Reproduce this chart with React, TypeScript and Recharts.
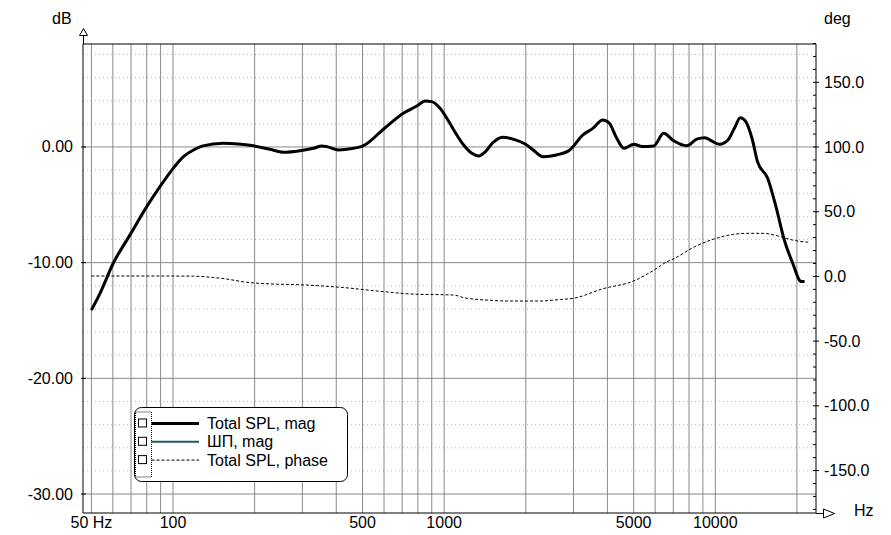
import React from "react";
import { LineChart, Line, XAxis, YAxis, ReferenceLine } from "recharts";

// Total SPL, magnitude (dB)
const splFreq = [
  50, 53.8, 60.2, 69.4, 80, 89.5, 99, 109, 119, 129, 153, 174, 198, 228, 255, 294, 330, 354, 369, 407, 438,
  502, 597, 707, 793, 851, 899, 966, 1023, 1085, 1180, 1265, 1341, 1420, 1505, 1643, 1807, 1990, 2130, 2315,
  2595, 2905, 3250, 3535, 3846, 4068, 4302, 4606, 5010, 5376, 5932, 6450, 7020, 7850, 8540, 9160, 9690,
  10380, 11130, 11760, 12370, 12960, 13710, 14310, 15600, 16740, 17970, 19300, 20740, 21340,
];
const splDb = [
  -14.1, -12.65, -10.05, -7.6, -5.16, -3.43, -2.0, -0.85, -0.26, 0.09, 0.32, 0.26, 0.1, -0.2, -0.46, -0.33,
  -0.11, 0.09, 0.03, -0.26, -0.2, 0.09, 1.53, 2.91, 3.54, 3.98, 3.92, 3.34, 2.48, 1.47, 0.17, -0.55, -0.78,
  -0.4, 0.32, 0.84, 0.66, 0.26, -0.26, -0.84, -0.69, -0.26, 1.04, 1.61, 2.33, 2.05, 0.89, -0.11, 0.23, 0.03,
  0.09, 1.18, 0.54, 0.11, 0.67, 0.8, 0.52, 0.23, 0.6, 1.61, 2.53, 2.19, 0.6, -1.27, -2.71, -5.16, -8.04,
  -10.05, -11.64, -11.64,
];

// Total SPL, phase (deg)
const phaseFreq = [
  50, 90, 119, 140, 155, 187, 230, 300, 430, 600, 760, 1090, 1180, 1500, 1700, 2250, 2680, 3000, 3850, 5000,
  5900, 6640, 7000, 8400, 9830, 11650, 13000, 15000, 17000, 19300, 21900, 22400,
];
const phaseDeg = [
  0.3, 0.3, 0.2, -0.8, -1.8, -4.5, -5.8, -6.5, -8.7, -11.8, -13.6, -14.4, -16.4, -18.5, -19, -19, -17.8, -16.9,
  -9.5, -3.5, 4.5, 11.4, 13.5, 23, 28.7, 32.5, 33.3, 33.3, 31.3, 28.1, 26.5, 26.4,
];

const freqTicks = [50, 100, 500, 1000, 5000, 10000];
const gridFreqs = [
  50, 60, 70, 80, 90, 100, 200, 300, 400, 500, 600, 700, 800, 900, 1000, 2000, 3000, 4000, 5000, 6000, 7000,
  8000, 9000, 10000, 20000,
];
const dbTicks = [-30, -20, -10, 0];
const dbMinor = [-28, -26, -24, -22, -18, -16, -14, -12, -8, -6, -4, -2, 2, 4, 6, 8];
const degTicks = [
  -180, -170, -160, -150, -140, -130, -120, -110, -100, -90, -80, -70, -60, -50, -40, -30, -20, -10, 0, 10, 20,
  30, 40, 50, 60, 70, 80, 90, 100, 110, 120, 130, 140, 150, 160, 170, 180,
];

const legendItems = ["Total SPL, mag", "ШП, mag", "Total SPL, phase"];

const FONT = "'Liberation Sans', Arial, sans-serif";

const splData = splFreq.map((f, i) => ({ f, db: splDb[i] }));
const phaseData = phaseFreq.map((f, i) => ({ f, deg: phaseDeg[i] }));

const DbTick = (props: any) => {
  const { x, y, payload } = props;
  return (
    <g>
      <line x1={x - 2} x2={x + 3} y1={y} y2={y} stroke="#000" />
      <text x={x - 10} y={y} dy={5.5} textAnchor="end" fontSize={16} fontFamily={FONT} fill="#000">
        {payload.value.toFixed(2)}
      </text>
    </g>
  );
};

const DegTick = (props: any) => {
  const { x, y, payload } = props;
  const v = payload.value;
  const major = v % 50 === 0;
  return (
    <g>
      <line x1={x - 3} x2={major ? x + 3 : x} y1={y} y2={y} stroke="#000" />
      {major && Math.abs(v) <= 150 && (
        <text x={x + 8} y={y} dy={5.5} textAnchor="start" fontSize={16} fontFamily={FONT} fill="#000">
          {v.toFixed(1)}
        </text>
      )}
    </g>
  );
};

const Legend = () => (
  <svg width={216} height={77} style={{ position: "absolute", left: 133, top: 406 }}>
    <rect x={1.5} y={1.5} width={213} height={74} rx={7} fill="#fff" stroke="#000" />
    <rect x={2.5} y={6} width={16} height={65} fill="none" stroke="#000" strokeDasharray="1 1" />
    {legendItems.map((name, i) => {
      const cy = 17.5 + i * 18.3;
      return (
        <g key={name}>
          <rect x={5.5} y={cy - 4.5} width={8} height={8} fill="#fff" stroke="#000" />
          <line
            x1={18.5}
            x2={66}
            y1={cy}
            y2={cy}
            stroke={i === 1 ? "#1f5c66" : "#000"}
            strokeWidth={i === 0 ? 3 : i === 1 ? 2 : 1}
            strokeDasharray={i === 2 ? "3 2" : undefined}
          />
          <text x={74} y={cy} dy={5.5} fontSize={16} fontFamily={FONT} fill="#000">
            {name}
          </text>
        </g>
      );
    })}
  </svg>
);

export default function App() {
  return (
    <div
      style={{
        position: "absolute",
        left: 0,
        top: 0,
        width: 891,
        height: 535,
        background: "#fff",
        fontFamily: FONT,
      }}
    >
      <LineChart width={891} height={535} margin={{ top: 44, right: 0, bottom: 0, left: 0 }}>
        <XAxis
          dataKey="f"
          type="number"
          scale="log"
          domain={[46.56, 23520]}
          allowDataOverflow
          ticks={freqTicks}
          interval={0}
          height={22}
          tickLine={false}
          tickSize={0}
          tickMargin={4}
          axisLine={{ stroke: "#000" }}
          tick={{ fontSize: 16, fill: "#000", fontFamily: FONT }}
          tickFormatter={(v: number) => (v === 50 ? "50 Hz" : String(v))}
        />
        <YAxis
          yAxisId="db"
          orientation="left"
          type="number"
          domain={[-31.64, 8.9]}
          allowDataOverflow
          ticks={dbTicks}
          interval={0}
          width={83}
          tickLine={false}
          tickSize={0}
          tickMargin={0}
          axisLine={{ stroke: "#000" }}
          tick={<DbTick />}
        />
        <YAxis
          yAxisId="deg"
          orientation="right"
          type="number"
          domain={[-182.8, 179.6]}
          allowDataOverflow
          ticks={degTicks}
          interval={0}
          width={75}
          tickLine={false}
          tickSize={0}
          tickMargin={0}
          axisLine={{ stroke: "#000" }}
          tick={<DegTick />}
        />
        {dbMinor.map((v) => (
          <ReferenceLine key={`m${v}`} yAxisId="db" y={v} stroke="#b8b8b8" strokeDasharray="1 3" />
        ))}
        {gridFreqs.map((f) => (
          <ReferenceLine key={`v${f}`} yAxisId="db" x={f} stroke="#8a8a8a" />
        ))}
        {dbTicks.map((v) => (
          <ReferenceLine key={`h${v}`} yAxisId="db" y={v} stroke="#8a8a8a" />
        ))}
        <ReferenceLine yAxisId="db" y={8.9} stroke="#000" />
        <Line
          yAxisId="deg"
          data={phaseData}
          dataKey="deg"
          type="monotone"
          stroke="#000"
          strokeWidth={1}
          strokeDasharray="3 2"
          dot={false}
          isAnimationActive={false}
        />
        <Line
          yAxisId="db"
          data={splData}
          dataKey="db"
          type="monotone"
          stroke="#000"
          strokeWidth={3}
          dot={false}
          isAnimationActive={false}
        />
      </LineChart>
      <svg width={891} height={535} style={{ position: "absolute", left: 0, top: 0, pointerEvents: "none" }}>
        <line x1={83.5} x2={83.5} y1={35} y2={44} stroke="#000" />
        <polygon points="83.5,28.5 79.5,35.5 87.5,35.5" fill="#fff" stroke="#000" />
        <line x1={816} x2={823} y1={513.5} y2={513.5} stroke="#000" />
        <polygon points="834.5,513.5 823.5,509 823.5,518" fill="#fff" stroke="#000" />
        <text x={52} y={24} fontSize={16} fontFamily={FONT} fill="#000">
          dB
        </text>
        <text x={824} y={24} fontSize={16} fontFamily={FONT} fill="#000">
          deg
        </text>
        <text x={854} y={516} fontSize={16} fontFamily={FONT} fill="#000">
          Hz
        </text>
      </svg>
      <Legend />
    </div>
  );
}
